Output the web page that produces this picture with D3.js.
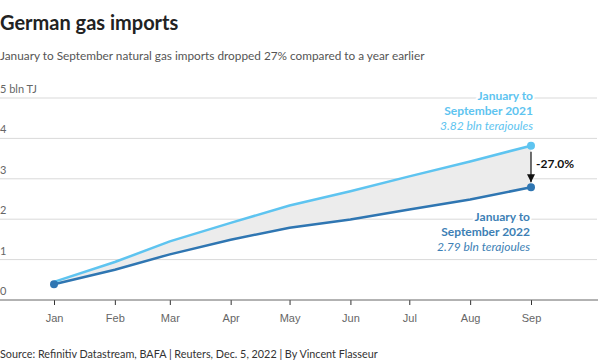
<html>
  <head>
    <meta charset="utf-8">
    <script src="https://d3js.org/d3.v7.min.js"></script>
  </head>
  <style type="text/css">
    body { margin: 0; background: #fff; }
    svg { font-family: Lato, "Noto Sans", sans-serif; }
    .grid line { stroke: #d9d9d9; stroke-width: 1; }
    .ylab { font-size: 11px; fill: #666; }
    .xlab { font-size: 11px; fill: #666; }
  </style>
  <body>
    <div id="chart"></div>
  </body>
  <script type="text/javascript">
    var months = ["Jan", "Feb", "Mar", "Apr", "May", "Jun", "Jul", "Aug", "Sep"];
    // cumulative imports, bln terajoules
    var values2021 = [0.45, 0.94, 1.45, 1.91, 2.34, 2.69, 3.06, 3.43, 3.82];
    var values2022 = [0.39, 0.75, 1.13, 1.49, 1.79, 1.99, 2.24, 2.49, 2.79];
    var yTicks = [0, 1, 2, 3, 4, 5];

    var width = 600;
    var height = 363;
    var light = "#5ec4f0";
    var dark = "#2f76b2";

    var data = months.map(function(m, i) {
      return {date: new Date(2022, i, 1), a: values2021[i], b: values2022[i]};
    });

    var x = d3.scaleTime()
      .domain([new Date(2022, 0, 1), new Date(2022, 8, 1)])
      .range([54, 531]);
    var y = d3.scaleLinear().domain([0, 5]).range([300, 98]);

    var svg = d3.select("#chart").append("svg")
      .attr("width", width)
      .attr("height", height);

    /* titles */
    svg.append("text").attr("x", 0).attr("y", 30)
      .style("font-size", "20px").style("font-weight", "bold").style("fill", "#222")
      .text("German gas imports");
    svg.append("text").attr("x", 0).attr("y", 60)
      .style("font-size", "11.8px").style("fill", "#555")
      .text("January to September natural gas imports dropped 27% compared to a year earlier");

    /* grid */
    var grid = svg.append("g").attr("class", "grid");
    grid.selectAll("line").data(yTicks.filter(d => d > 0)).enter()
      .append("line")
      .attr("x1", 0).attr("x2", 597)
      .attr("y1", d => y(d)).attr("y2", d => y(d));

    svg.selectAll(".ylab").data(yTicks).enter()
      .append("text").attr("class", "ylab")
      .attr("x", 0).attr("y", d => y(d) - 5)
      .text(d => d === 5 ? "5 bln TJ" : d);

    /* area between series */
    var area = d3.area()
      .x(d => x(d.date))
      .y0(d => y(d.b))
      .y1(d => y(d.a));
    svg.append("path").datum(data)
      .attr("d", area)
      .style("fill", "#ececec");

    /* x axis */
    var xAxis = d3.axisBottom(x)
      .tickValues(data.map(d => d.date))
      .tickFormat(d3.timeFormat("%b"))
      .tickSize(5).tickPadding(9);
    var ax = svg.append("g")
      .attr("transform", "translate(0," + y(0) + ")")
      .call(xAxis);
    ax.select(".domain").remove();
    ax.selectAll(".tick line").attr("stroke", "#333");
    ax.selectAll(".tick text").attr("class", "xlab").attr("fill", "#666").style("font-size", "11px");
    svg.append("line")
      .attr("x1", 0).attr("x2", 598)
      .attr("y1", y(0)).attr("y2", y(0))
      .attr("stroke", "#666").attr("stroke-width", 1);

    /* lines */
    var lineA = d3.line().x(d => x(d.date)).y(d => y(d.a));
    var lineB = d3.line().x(d => x(d.date)).y(d => y(d.b));
    svg.append("path").datum(data).attr("d", lineB)
      .style("fill", "none").style("stroke", dark).style("stroke-width", 2.5);
    svg.append("path").datum(data).attr("d", lineA)
      .style("fill", "none").style("stroke", light).style("stroke-width", 2.5);

    var first = data[0], last = data[data.length - 1];
    svg.append("circle").attr("cx", x(first.date)).attr("cy", y(first.b)).attr("r", 4).style("fill", dark);
    svg.append("circle").attr("cx", x(last.date)).attr("cy", y(last.a)).attr("r", 4).style("fill", light);
    svg.append("circle").attr("cx", x(last.date)).attr("cy", y(last.b)).attr("r", 4).style("fill", dark);

    /* change arrow */
    svg.append("defs").append("marker")
      .attr("id", "arrow").attr("viewBox", "0 0 10 10")
      .attr("refX", 10).attr("refY", 5)
      .attr("markerWidth", 8).attr("markerHeight", 8)
      .attr("markerUnits", "userSpaceOnUse")
      .attr("orient", "auto")
      .append("path").attr("d", "M0,0L10,5L0,10z").style("fill", "#111");
    svg.append("line")
      .attr("x1", x(last.date)).attr("x2", x(last.date))
      .attr("y1", y(last.a) + 6).attr("y2", y(last.b) - 5)
      .attr("stroke", "#111").attr("stroke-width", 1.2)
      .attr("marker-end", "url(#arrow)");
    var pct = (last.b / last.a - 1) * 100;
    svg.append("text")
      .attr("x", x(last.date) + 5).attr("y", 168)
      .style("font-size", "12px").style("font-weight", "bold").style("fill", "#111")
      .text("-" + Math.abs(pct).toFixed(1) + "%");

    /* labels */
    function label(xr, ys, color, lines) {
      var g = svg.append("g");
      lines.forEach(function(l, i) {
        g.append("text")
          .attr("x", xr).attr("y", ys[i])
          .attr("text-anchor", "end")
          .style("font-size", "12px")
          .style("font-weight", l.bold ? "bold" : "normal")
          .style("font-style", l.bold ? "normal" : "italic")
          .style("fill", color)
          .style("paint-order", "stroke")
          .style("stroke", "#fff").style("stroke-width", 4)
          .text(l.t);
      });
    }
    label(533, [100, 115, 130], light, [
      {t: "January to", bold: true},
      {t: "September 2021", bold: true},
      {t: d3.format(".2f")(last.a) + " bln terajoules"}
    ]);
    label(530, [221, 236, 251], "#3d7fb5", [
      {t: "January to", bold: true},
      {t: "September 2022", bold: true},
      {t: d3.format(".2f")(last.b) + " bln terajoules"}
    ]);

    /* source */
    svg.append("text").attr("x", 0).attr("y", 358)
      .style("font-size", "10.8px").style("fill", "#333")
      .text("Source: Refinitiv Datastream, BAFA | Reuters, Dec. 5, 2022 | By Vincent Flasseur");
  </script>
</html>
